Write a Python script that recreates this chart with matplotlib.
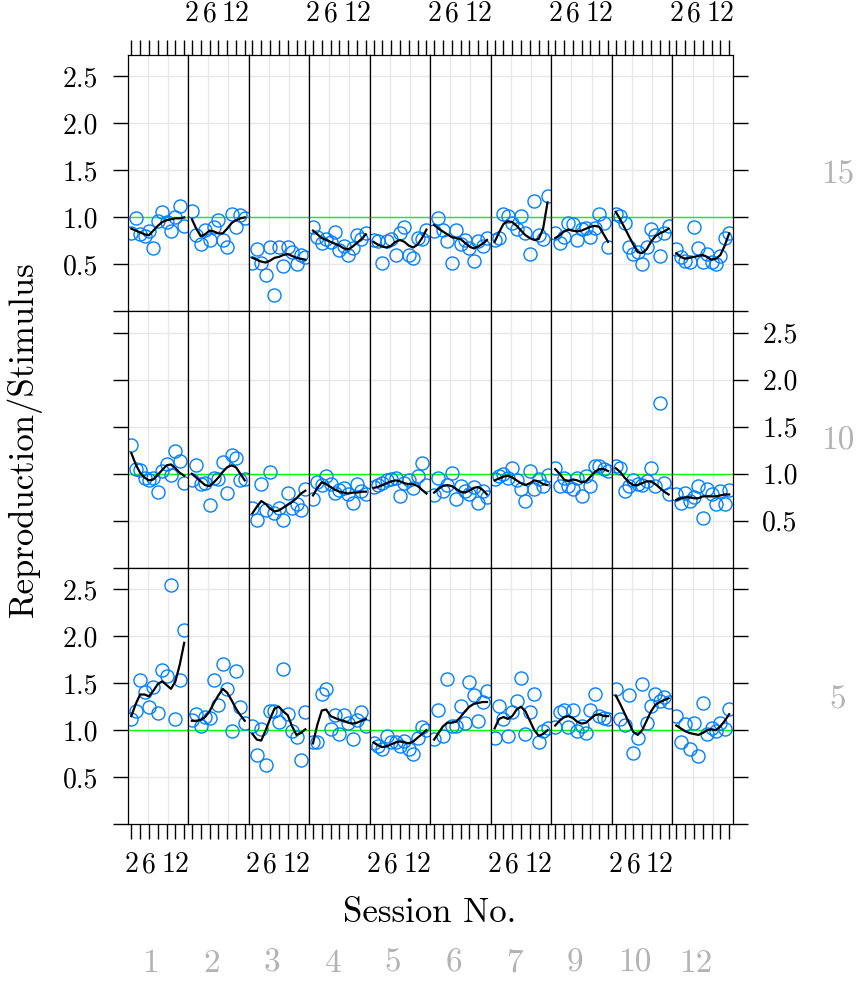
import matplotlib

matplotlib.use('Agg')

import matplotlib.pyplot as plt

plt.rcParams['font.family'] = 'cmr10'
plt.rcParams['axes.formatter.use_mathtext'] = True

# sessions 2..14, one value per session in every panel
sessions = [2, 3, 4, 5, 6, 7, 8, 9, 10, 11, 12, 13, 14]
subjects = ['1', '2', '3', '4', '5', '6', '7', '9', '10', '12']
stimuli = ['15', '10', '5']  # rows, top to bottom

xtick_at = [2, 4, 6, 8, 10, 12, 14]
xtick_labels = ['2', '', '6', '', '', '12', '']
ytick_at = [0, 0.5, 1.0, 1.5, 2.0, 2.5]
ytick_labels = ['', '0.5', '1.0', '1.5', '2.0', '2.5']
vgrid = [5.7, 10.25]

# Reproduction/Stimulus, stimulus 15
ratio_15 = [
    [0.83, 0.99, 0.82, 0.80, 0.86, 0.67, 0.96, 1.06, 0.95, 0.86, 1.00, 1.12, 0.91],
    [1.07, 0.81, 0.72, 0.87, 0.76, 0.90, 0.97, 0.76, 0.68, 1.04, 0.90, 1.03, 0.99],
    [0.52, 0.66, 0.51, 0.39, 0.68, 0.17, 0.68, 0.48, 0.69, 0.63, 0.50, 0.60, 0.58],
    [0.90, 0.79, 0.73, 0.77, 0.74, 0.85, 0.65, 0.70, 0.60, 0.67, 0.81, 0.77, 0.83],
    [0.76, 0.75, 0.52, 0.75, 0.77, 0.60, 0.83, 0.90, 0.60, 0.57, 0.78, 0.77, 0.87],
    [0.86, 0.99, 0.87, 0.75, 0.52, 0.87, 0.72, 0.76, 0.67, 0.54, 0.75, 0.70, 0.78],
    [0.76, 0.78, 1.04, 1.02, 0.94, 0.88, 1.02, 0.83, 0.61, 1.17, 0.81, 0.77, 1.23],
    [0.83, 0.73, 0.79, 0.94, 0.93, 0.76, 0.88, 0.89, 0.79, 0.89, 1.04, 0.94, 0.68],
    [1.04, 1.02, 0.94, 0.68, 0.61, 0.63, 0.50, 0.68, 0.88, 0.81, 0.59, 0.83, 0.91],
    [0.66, 0.58, 0.54, 0.53, 0.90, 0.67, 0.53, 0.61, 0.53, 0.50, 0.59, 0.78, 0.83],
]
smooth_15 = [
    [0.88, 0.86, 0.84, 0.82, 0.81, 0.86, 0.91, 0.95, 0.97, 0.98, 0.99, 0.99, 1.00],
    [0.98, 0.88, 0.80, 0.82, 0.86, 0.85, 0.83, 0.83, 0.88, 0.94, 0.97, 0.99, 1.00],
    [0.57, 0.55, 0.53, 0.52, 0.54, 0.57, 0.58, 0.60, 0.61, 0.59, 0.57, 0.56, 0.55],
    [0.86, 0.82, 0.78, 0.76, 0.74, 0.72, 0.70, 0.67, 0.66, 0.69, 0.73, 0.77, 0.82],
    [0.74, 0.71, 0.69, 0.68, 0.70, 0.74, 0.76, 0.74, 0.70, 0.68, 0.71, 0.78, 0.87],
    [0.92, 0.88, 0.85, 0.82, 0.79, 0.78, 0.77, 0.73, 0.69, 0.67, 0.69, 0.72, 0.76],
    [0.74, 0.84, 0.93, 0.96, 0.95, 0.91, 0.86, 0.81, 0.78, 0.76, 0.77, 0.88, 1.16],
    [0.78, 0.81, 0.85, 0.87, 0.86, 0.85, 0.86, 0.88, 0.90, 0.91, 0.90, 0.82, 0.74],
    [1.06, 0.98, 0.89, 0.80, 0.71, 0.63, 0.62, 0.66, 0.74, 0.80, 0.83, 0.85, 0.88],
    [0.62, 0.58, 0.56, 0.57, 0.58, 0.59, 0.60, 0.58, 0.55, 0.56, 0.60, 0.70, 0.83],
]

# stimulus 10
ratio_10 = [
    [1.31, 1.05, 1.04, 0.96, 0.93, 0.96, 0.81, 1.03, 1.10, 0.99, 1.24, 1.14, 0.90],
    [0.93, 1.09, 0.89, 0.90, 0.67, 0.96, 0.94, 1.13, 0.80, 1.20, 1.17, 0.93, 0.94],
    [0.64, 0.51, 0.89, 0.61, 1.02, 0.58, 0.64, 0.51, 0.80, 0.64, 0.68, 0.62, 0.84],
    [0.73, 0.91, 0.88, 0.98, 0.89, 0.80, 0.83, 0.85, 0.78, 0.69, 0.89, 0.82, 0.79],
    [0.86, 0.88, 0.90, 0.93, 0.95, 0.96, 0.76, 0.90, 0.93, 0.85, 0.98, 1.12, 0.88],
    [0.77, 0.96, 0.82, 0.88, 1.01, 0.73, 0.87, 0.82, 0.78, 0.86, 0.69, 0.82, 0.75],
    [0.95, 0.98, 1.00, 0.96, 1.06, 0.93, 0.84, 0.71, 1.03, 0.84, 0.95, 0.87, 0.99],
    [1.06, 0.87, 0.96, 0.87, 0.84, 0.96, 0.76, 0.98, 0.87, 1.08, 1.08, 1.05, 1.03],
    [1.08, 1.06, 0.82, 0.87, 0.93, 0.89, 0.88, 0.92, 1.06, 0.87, 1.75, 0.90, 0.79],
    [0.78, 0.69, 0.80, 0.71, 0.75, 0.87, 0.53, 0.84, 0.78, 0.68, 0.82, 0.68, 0.83],
]
smooth_10 = [
    [1.22, 1.10, 1.01, 0.96, 0.93, 0.94, 0.99, 1.04, 1.09, 1.10, 1.06, 1.01, 0.98],
    [1.00, 0.96, 0.92, 0.88, 0.87, 0.91, 0.96, 1.02, 1.07, 1.09, 1.07, 1.00, 0.93],
    [0.58, 0.65, 0.71, 0.68, 0.63, 0.60, 0.61, 0.64, 0.67, 0.70, 0.74, 0.79, 0.82],
    [0.77, 0.85, 0.91, 0.89, 0.86, 0.83, 0.81, 0.80, 0.79, 0.80, 0.80, 0.81, 0.81],
    [0.85, 0.86, 0.88, 0.90, 0.92, 0.93, 0.92, 0.90, 0.89, 0.89, 0.87, 0.83, 0.79],
    [0.80, 0.84, 0.87, 0.88, 0.87, 0.84, 0.81, 0.80, 0.82, 0.85, 0.86, 0.83, 0.78],
    [0.93, 0.95, 0.97, 0.98, 0.96, 0.93, 0.90, 0.88, 0.90, 0.93, 0.92, 0.89, 0.88],
    [1.05, 1.00, 0.94, 0.92, 0.94, 0.93, 0.91, 0.92, 0.97, 1.02, 1.05, 1.05, 1.03],
    [1.06, 1.02, 0.96, 0.91, 0.88, 0.88, 0.90, 0.92, 0.92, 0.89, 0.85, 0.81, 0.78],
    [0.72, 0.74, 0.75, 0.75, 0.74, 0.74, 0.76, 0.76, 0.76, 0.76, 0.77, 0.78, 0.78],
]

# stimulus 5
ratio_5 = [
    [1.12, 1.20, 1.53, 1.41, 1.25, 1.46, 1.18, 1.64, 1.58, 2.55, 1.12, 1.53, 2.07],
    [1.11, 1.17, 1.05, 1.14, 1.13, 1.53, 1.27, 1.70, 1.44, 0.99, 1.63, 1.25, 1.08],
    [1.05, 0.74, 1.01, 0.63, 1.20, 1.20, 1.09, 1.65, 1.17, 0.99, 0.93, 0.68, 1.19],
    [0.87, 0.87, 1.39, 1.44, 1.01, 1.16, 0.96, 1.16, 1.08, 0.91, 1.11, 1.19, 1.05],
    [0.86, 0.83, 0.80, 0.94, 0.87, 0.87, 0.83, 0.89, 0.80, 0.75, 0.92, 1.03, 1.00],
    [0.91, 1.21, 0.94, 1.55, 1.05, 1.05, 1.26, 1.08, 1.51, 1.37, 1.10, 1.30, 1.42],
    [0.92, 1.26, 1.12, 0.94, 1.19, 1.31, 1.56, 0.96, 1.19, 1.39, 0.87, 0.99, 1.02],
    [1.03, 1.19, 1.21, 1.03, 1.21, 0.99, 1.05, 0.97, 1.21, 1.38, 1.15, 1.13, 1.12],
    [1.44, 1.12, 1.06, 1.37, 0.76, 0.92, 1.49, 1.08, 1.26, 1.39, 1.31, 1.35, 1.30],
    [1.15, 0.87, 1.07, 0.80, 1.08, 0.73, 1.29, 0.96, 1.02, 0.99, 1.08, 1.01, 1.23],
]
smooth_5 = [
    [1.15, 1.28, 1.38, 1.38, 1.36, 1.42, 1.49, 1.52, 1.48, 1.44, 1.52, 1.70, 1.93],
    [1.10, 1.10, 1.11, 1.14, 1.20, 1.29, 1.37, 1.44, 1.40, 1.32, 1.23, 1.16, 1.10],
    [0.96, 0.90, 0.89, 1.00, 1.12, 1.23, 1.25, 1.20, 1.16, 1.04, 0.95, 0.97, 1.01],
    [0.86, 1.06, 1.21, 1.22, 1.15, 1.13, 1.11, 1.10, 1.08, 1.07, 1.08, 1.10, 1.12],
    [0.87, 0.84, 0.82, 0.83, 0.85, 0.87, 0.88, 0.87, 0.86, 0.88, 0.92, 0.96, 1.00],
    [0.90, 0.97, 1.04, 1.08, 1.08, 1.09, 1.14, 1.20, 1.25, 1.28, 1.29, 1.30, 1.30],
    [1.02, 1.12, 1.14, 1.12, 1.15, 1.22, 1.25, 1.20, 1.10, 1.00, 0.94, 0.96, 1.00],
    [1.05, 1.10, 1.14, 1.15, 1.13, 1.09, 1.07, 1.08, 1.12, 1.16, 1.17, 1.15, 1.15],
    [1.37, 1.28, 1.18, 1.08, 0.98, 0.95, 1.00, 1.10, 1.20, 1.27, 1.30, 1.32, 1.34],
    [1.05, 1.02, 0.99, 0.97, 0.96, 0.95, 0.97, 1.00, 1.01, 1.00, 1.04, 1.10, 1.17],
]

rows_ratio = [ratio_15, ratio_10, ratio_5]
rows_smooth = [smooth_15, smooth_10, smooth_5]

W, H = 860, 981
fig = plt.figure(figsize=(W / 100, H / 100), dpi=100)

left_px, top_px = 127.5, 55.0
panel_w, panel_h = 60.55, 256.4
strip_grey = '#b3b3b3'
strip_y = [175, 441, 700]  # pixel rows of the stimulus labels

for r in range(3):
    for c in range(10):
        x0 = (left_px + c * panel_w) / W
        y0 = 1 - (top_px + (r + 1) * panel_h) / H
        ax = fig.add_axes([x0, y0, panel_w / W, panel_h / H])
        ax.set_xlim(1.13, 14.87)
        ax.set_ylim(0, 2.728)

        # grid
        for gy in ytick_at[1:]:
            ax.axhline(gy, color='#e8e8e8', lw=1, zorder=0)
        for gx in vgrid:
            ax.axvline(gx, color='#e8e8e8', lw=1, zorder=0)
        ax.axhline(1.0, color='#00ff00', lw=1, zorder=1)

        ax.plot(sessions, rows_ratio[r][c], 'o', mfc='none', mec='#0080ff',
                ms=9.4, mew=1.0, zorder=2)
        ax.plot(sessions, rows_smooth[r][c], color='black', lw=1.6, zorder=3)

        for sp in ax.spines.values():
            sp.set_linewidth(0.9)

        ax.set_xticks(xtick_at)
        ax.set_xticklabels(xtick_labels)
        ax.set_yticks(ytick_at)
        ax.set_yticklabels(ytick_labels)
        ax.tick_params(axis='x', direction='out', length=11, width=1, pad=9,
                       labelsize=20,
                       top=(r == 0), bottom=(r == 2),
                       labeltop=(r == 0 and c % 2 == 1),
                       labelbottom=(r == 2 and c % 2 == 0))
        ax.tick_params(axis='y', direction='out', length=11, width=1, pad=10,
                       labelsize=20,
                       left=(c == 0), right=(c == 9),
                       labelleft=(c == 0 and r != 1),
                       labelright=(c == 9 and r == 1))

# stimulus labels on the right, subject labels along the bottom
for s, yc in zip(stimuli, strip_y):
    fig.text(838 / W, 1 - yc / H, s, color=strip_grey, fontsize=24,
             ha='center', va='center')
for c, s in enumerate(subjects):
    xc = left_px + (c + 0.5) * panel_w - 7
    fig.text(xc / W, 1 - 963 / H, s, color=strip_grey, fontsize=24,
             ha='center', va='center')

fig.text(430 / W, 1 - 913 / H, 'Session No.', fontsize=25,
         ha='center', va='center')
fig.text(24 / W, 1 - 439 / H, 'Reproduction/Stimulus', fontsize=25,
         rotation=90, ha='center', va='center')

fig.savefig('out.png', dpi=100)
